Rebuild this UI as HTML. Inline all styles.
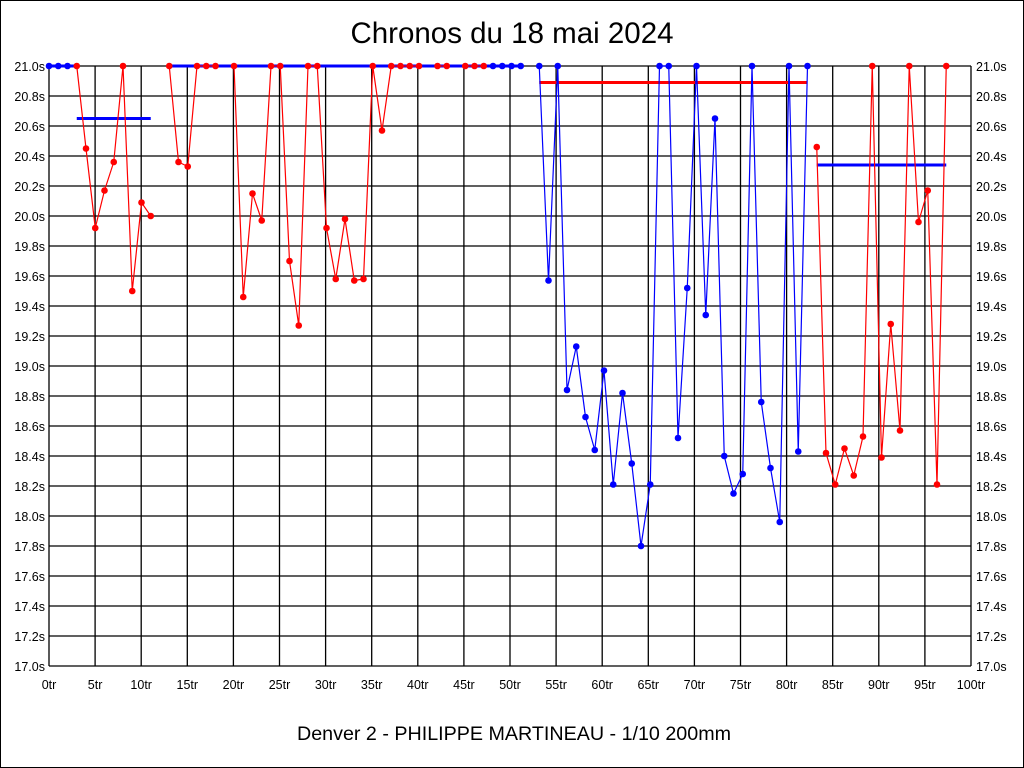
<!DOCTYPE html>
<html><head><meta charset="utf-8"><style>
html,body{margin:0;padding:0;background:#fff;}
svg{display:block;font-family:"Liberation Sans",sans-serif;}
</style></head><body>
<svg id="s" width="1024" height="768" viewBox="0 0 1024 768" xmlns="http://www.w3.org/2000/svg">
<rect x="0.5" y="0.5" width="1023" height="767" fill="#fff" stroke="#000"/>
<text x="512" y="43" font-size="29.5" text-anchor="middle">Chronos du 18 mai 2024</text>
<text x="514" y="740" font-size="19.7" text-anchor="middle">Denver 2 - PHILIPPE MARTINEAU - 1/10 200mm</text>
<g id="g"></g>
</svg>
<script>
var ns="http://www.w3.org/2000/svg",g=document.getElementById('g');
function el(t,a,txt){var e=document.createElementNS(ns,t);for(var k in a)e.setAttribute(k,a[k]);if(txt!==undefined)e.textContent=txt;g.appendChild(e);return e;}
var X0=49,X1=971,Y0=66,Y1=666;
function X(l){return X0+(X1-X0)*l/100;}
function PX(l){return 49+9.25*l;}
function Y(v){return Y1-(v-17)*150;}
for(var i=0;i<=20;i++){var x=X(i*5);el('line',{x1:x,y1:Y0,x2:x,y2:Y1,stroke:'#000','stroke-width':1.3});
el('text',{x:x,y:689,'font-size':12.5,'text-anchor':'middle'},(i*5)+'tr');}
for(var j=0;j<=20;j++){var v=17+j*0.2,y=Y(v);el('line',{x1:X0,y1:y,x2:X1,y2:y,stroke:'#000','stroke-width':1.3});
var t=v.toFixed(1)+'s';el('text',{x:45,y:y+5,'font-size':12.5,'text-anchor':'end'},t);el('text',{x:976,y:y+5,'font-size':12.5},t);}
function series(pts,c){var p=pts.map(function(q){return PX(q[0])+','+Y(q[1]);}).join(' ');
el('polyline',{points:p,fill:'none',stroke:c,'stroke-width':1.2});
pts.forEach(function(q){el('circle',{cx:PX(q[0]),cy:Y(q[1]),r:3.3,fill:c});});}
function hl(a,b,v,c){el('line',{x1:PX(a),y1:Y(v),x2:PX(b),y2:Y(v),stroke:c,'stroke-width':3});}
hl(13,51,21.0,'#00f');hl(0,3,21.0,'#00f');
hl(3,11,20.65,'#00f');
hl(53,82,20.89,'#f00');
hl(83,97,20.34,'#00f');
series([[0,21],[1,21],[2,21]],'#00f');
series([[3,21],[4,20.45],[5,19.92],[6,20.17],[7,20.36],[8,21],[9,19.5],[10,20.09],[11,20.0]],'#f00');
series([[13,21],[14,20.36],[15,20.33],[16,21],[17,21],[18,21]],'#f00');
series([[20,21],[21,19.46],[22,20.15],[23,19.97],[24,21],[25,21],[26,19.7],[27,19.27],[28,21],[29,21],[30,19.92],[31,19.58],[32,19.98],[33,19.57],[34,19.58],[35,21],[36,20.57],[37,21],[38,21],[39,21],[40,21]],'#f00');
series([[42,21],[43,21]],'#f00');
series([[45,21],[46,21],[47,21]],'#f00');
series([[48,21],[49,21],[50,21],[51,21]],'#00f');
series([[53,21],[54,19.57],[55,21],[56,18.84],[57,19.13],[58,18.66],[59,18.44],[60,18.97],[61,18.21],[62,18.82],[63,18.35],[64,17.8],[65,18.21],[66,21],[67,21],[68,18.52],[69,19.52],[70,21],[71,19.34],[72,20.65],[73,18.4],[74,18.15],[75,18.28],[76,21],[77,18.76],[78,18.32],[79,17.96],[80,21],[81,18.43],[82,21]],'#00f');
series([[83,20.46],[84,18.42],[85,18.21],[86,18.45],[87,18.27],[88,18.53],[89,21],[90,18.39],[91,19.28],[92,18.57],[93,21],[94,19.96],[95,20.17],[96,18.21],[97,21]],'#f00');
</script>
</body></html>
